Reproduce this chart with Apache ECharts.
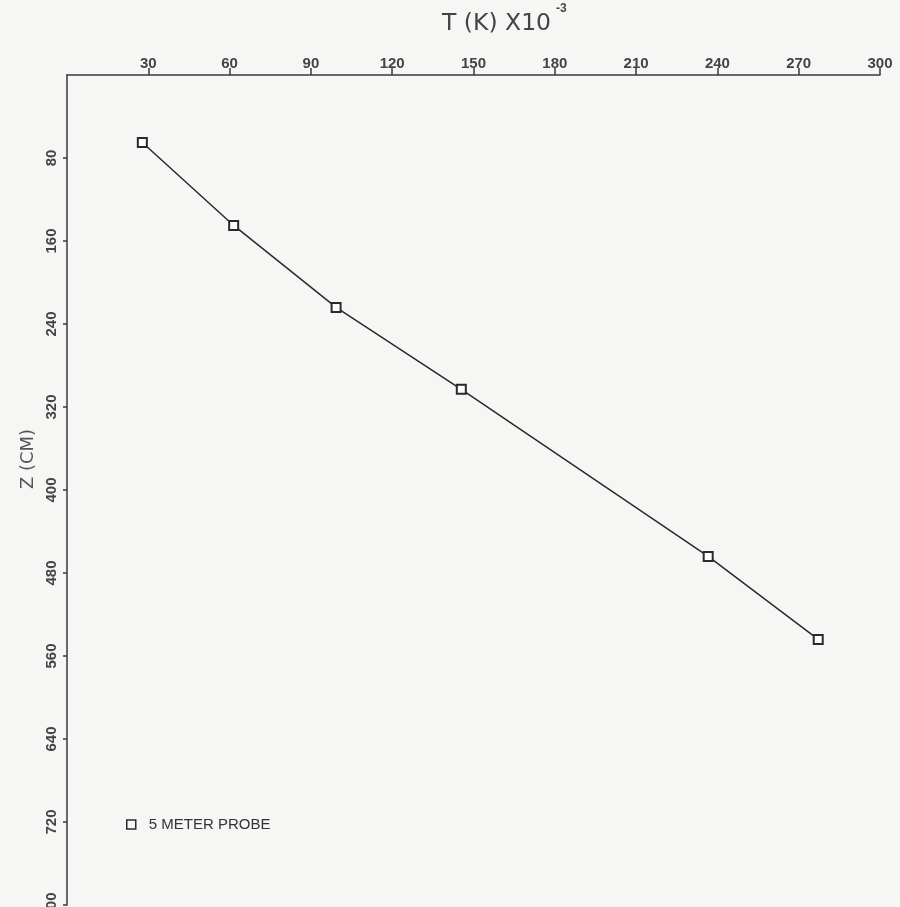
<!DOCTYPE html>
<html>
<head>
<meta charset="utf-8">
<script src="https://cdn.jsdelivr.net/npm/echarts@6/dist/echarts.min.js"></script>
<style>
  html, body { margin: 0; padding: 0; background: #f6f6f5; }
  #chart { width: 900px; height: 907px; }
</style>
</head>
<body>
<div id="chart"></div>
<script>
// Temperature profile measured by the 5 meter probe
const seriesName = '5 METER PROBE';
const temperature = [27.8, 61.5, 99.3, 145.5, 236.6, 277.2];   // T (K) x10^-3
const depth = [65, 145, 224, 303, 464, 544];                     // Z (cm)
const xTicks = [30, 60, 90, 120, 150, 180, 210, 240, 270, 300];
const yTicks = [80, 160, 240, 320, 400, 480, 560, 640, 720, 800];

const ink = '#3a3a3a';
const labelFont = { color: '#444', fontFamily: 'Liberation Sans', fontWeight: 'bold', fontSize: 15 };

const chart = echarts.init(document.getElementById('chart'), null, { renderer: 'canvas' });

chart.setOption({
  backgroundColor: '#f6f6f5',
  animation: false,
  grid: { left: 67, right: 20, top: 75, bottom: 2, containLabel: false, outerBoundsMode: 'none' },
  xAxis: {
    type: 'value',
    position: 'top',
    min: 0, max: 300, interval: 30,
    splitLine: { show: false },
    axisLine: { lineStyle: { color: ink, width: 1.5 } },
    axisTick: { length: 7, lineStyle: { color: ink, width: 1.5 }, customValues: xTicks },
    axisLabel: Object.assign({ margin: 4, customValues: xTicks }, labelFont)
  },
  yAxis: {
    type: 'value',
    inverse: true,
    min: 0, max: 800, interval: 80,
    splitLine: { show: false },
    axisLine: { lineStyle: { color: ink, width: 1.5 } },
    axisTick: { length: 4, lineStyle: { color: ink, width: 1.5 }, customValues: yTicks },
    axisLabel: Object.assign({ margin: 8, rotate: 90, customValues: yTicks }, labelFont)
  },
  legend: {
    left: 121, top: 812,
    itemWidth: 9, itemHeight: 9, itemGap: 10,
    textStyle: { color: '#333', fontFamily: 'Liberation Sans', fontSize: 15, padding: [0, 0, 0, 8] },
    data: [{
      name: seriesName,
      icon: 'rect',
      itemStyle: { color: 'transparent', borderColor: '#2a2a2a', borderWidth: 1.5 }
    }]
  },
  graphic: [
    {
      type: 'text', left: 442, top: 12,
      style: { text: 'T (K) X10', fill: '#444', font: '23.5px "DejaVu Sans"' }
    },
    {
      type: 'text', left: 556, top: 3,
      style: { text: '-3', fill: '#444', font: 'bold 12px "Liberation Sans"' }
    },
    {
      type: 'text', x: 28, y: 459, rotation: Math.PI / 2,
      style: { text: 'Z (CM)', fill: '#555', font: '18px "DejaVu Sans"', align: 'center', verticalAlign: 'middle' }
    }
  ],
  series: [{
    name: seriesName,
    type: 'line',
    data: temperature.map((t, i) => [t, depth[i]]),
    symbol: 'emptyRect',
    symbolSize: 9,
    lineStyle: { color: '#2a2a2a', width: 1.5 },
    itemStyle: { color: '#2a2a2a', borderWidth: 1.5 }
  }]
});
</script>
</body>
</html>
